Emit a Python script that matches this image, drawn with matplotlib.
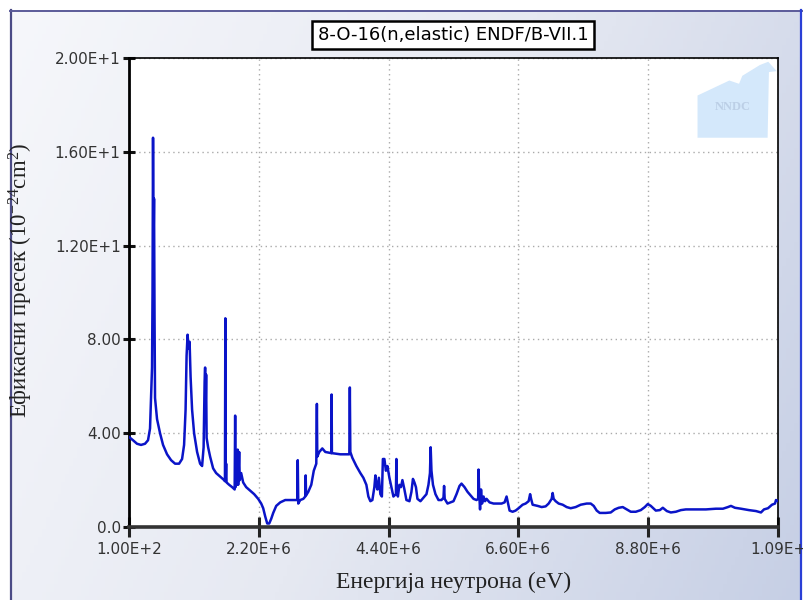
import numpy as np
import matplotlib
matplotlib.use("Agg")
import matplotlib.pyplot as plt
from matplotlib.patches import Polygon
from matplotlib.colors import LinearSegmentedColormap

plt.rcParams["mathtext.fontset"] = "custom"
plt.rcParams["mathtext.rm"] = "Liberation Serif"
plt.rcParams["mathtext.it"] = "Liberation Serif:italic"

# O-16 elastic cross section, energy in MeV, sigma in barns
energy_mev = [
    0.0001, 0.0673, 0.1346, 0.2019, 0.2691, 0.3196, 0.3532, 0.3701, 0.3869, 0.3953,
    0.4037, 0.4121, 0.4205, 0.4289, 0.4373, 0.4710, 0.5215, 0.5719, 0.6392, 0.7065,
    0.7738, 0.8411, 0.8915, 0.9252, 0.9504, 0.9672, 0.9840, 1.0008, 1.0177, 1.0345,
    1.0597, 1.0934, 1.1438, 1.1943, 1.2279, 1.2532, 1.2700, 1.2784, 1.2868, 1.2952,
    1.3036, 1.3289, 1.3625, 1.4130, 1.4634, 1.5307, 1.5980, 1.6115, 1.6182, 1.6249,
    1.6316, 1.6384, 1.6821, 1.7326, 1.7746, 1.7830, 1.7898, 1.7998, 1.8083, 1.8251,
    1.8335, 1.8503, 1.8604, 1.8840, 1.9176, 1.9681, 2.0353, 2.1026, 2.1699, 2.2204,
    2.2540, 2.2877, 2.3213, 2.3549, 2.3886, 2.4222, 2.4727, 2.5400, 2.6241, 2.8259,
    2.8343, 2.8427, 2.8764, 2.9269, 2.9605, 2.9672, 2.9739, 3.0110, 3.0614, 3.1034,
    3.1455, 3.1556, 3.1623, 3.1960, 3.2465, 3.2969, 3.3978, 3.4029, 3.4079, 3.5492,
    3.7006, 3.7090, 3.7174, 3.7511, 3.8184, 3.8857, 3.9361, 3.9866, 4.0202, 4.0539,
    4.0875, 4.1211, 4.1380, 4.1548, 4.1716, 4.1968, 4.2221, 4.2473, 4.2641, 4.2894,
    4.3146, 4.3398, 4.3735, 4.4071, 4.4407, 4.4828, 4.4912, 4.4996, 4.5164, 4.5417,
    4.5669, 4.5921, 4.6258, 4.6594, 4.7099, 4.7435, 4.7688, 4.7940, 4.8192, 4.8444,
    4.8949, 4.9455, 4.9958, 5.0295, 5.0547, 5.0665, 5.0799, 5.1052, 5.1472, 5.1977,
    5.2482, 5.2818, 5.2919, 5.3020, 5.3491, 5.3995, 5.4500, 5.5005, 5.5509, 5.5846,
    5.6350, 5.6855, 5.7360, 5.7864, 5.8369, 5.8638, 5.8705, 5.8806, 5.8958, 5.9126,
    5.9294, 5.9546, 5.9799, 6.0051, 6.0556, 6.1228, 6.1901, 6.2574, 6.3079, 6.3415,
    6.3667, 6.3920, 6.4424, 6.4929, 6.5434, 6.6107, 6.6611, 6.7116, 6.7368, 6.7536,
    6.7789, 6.8630, 6.9303, 6.9975, 7.0480, 7.0985, 7.1153, 7.1321, 7.1657, 7.2162,
    7.2835, 7.3508, 7.4181, 7.5022, 7.5863, 7.6872, 7.7545, 7.8049, 7.8554, 7.9059,
    8.0068, 8.0909, 8.1582, 8.2255, 8.2927, 8.3600, 8.4273, 8.5114, 8.5955, 8.6628,
    8.7133, 8.7637, 8.8478, 8.9151, 8.9656, 9.0329, 9.1002, 9.1843, 9.2684, 9.3525,
    9.5207, 9.6889, 9.8571, 9.9749, 10.0590, 10.1094, 10.1767, 10.2776, 10.4122, 10.5299,
    10.6140, 10.6645, 10.7318, 10.7991, 10.8495, 10.8664, 10.9000,
]
sigma_b = [
    3.84, 3.70, 3.55, 3.50, 3.55, 3.70, 4.20, 5.50, 6.80, 10.0,
    16.6, 12.0, 14.0, 9.00, 5.50, 4.60, 4.00, 3.50, 3.10, 2.85,
    2.70, 2.70, 2.90, 3.50, 5.00, 7.30, 8.20, 7.60, 7.90, 6.40,
    5.00, 4.00, 3.20, 2.70, 2.60, 3.40, 6.20, 6.80, 5.00, 6.50,
    3.80, 3.40, 3.00, 2.50, 2.30, 2.15, 2.00, 1.95, 8.90, 2.10,
    2.70, 1.90, 1.80, 1.70, 1.60, 4.75, 1.70, 2.90, 1.80, 3.30,
    1.80, 3.20, 2.00, 2.30, 1.90, 1.70, 1.55, 1.40, 1.20, 1.00,
    0.80, 0.45, 0.15, 0.15, 0.35, 0.60, 0.90, 1.05, 1.15, 1.15,
    2.85, 1.00, 1.15, 1.20, 1.30, 2.20, 1.35, 1.50, 1.80, 2.40,
    2.70, 5.25, 3.00, 3.20, 3.35, 3.20, 3.15, 5.65, 3.15, 3.10,
    3.10, 5.95, 3.20, 2.95, 2.60, 2.30, 2.10, 1.80, 1.30, 1.10,
    1.15, 1.70, 2.20, 1.80, 1.60, 2.10, 1.40, 1.30, 2.90, 2.90,
    2.40, 2.60, 2.10, 1.70, 1.30, 1.40, 2.90, 1.50, 1.30, 1.80,
    1.70, 2.00, 1.60, 1.15, 1.10, 1.50, 2.05, 1.90, 1.70, 1.20,
    1.10, 1.25, 1.40, 1.80, 2.30, 3.40, 2.40, 1.80, 1.40, 1.15,
    1.15, 1.25, 1.75, 1.20, 1.00, 1.05, 1.10, 1.40, 1.75, 1.85,
    1.70, 1.50, 1.35, 1.20, 1.15, 1.20, 2.45, 1.50, 0.75, 1.60,
    1.00, 1.30, 1.10, 1.20, 1.05, 1.00, 1.00, 1.00, 1.05, 1.30,
    1.00, 0.70, 0.65, 0.70, 0.80, 0.95, 1.00, 1.10, 1.40, 1.20,
    0.95, 0.90, 0.85, 0.88, 1.00, 1.20, 1.45, 1.20, 1.10, 1.00,
    0.95, 0.85, 0.80, 0.85, 0.95, 1.00, 1.00, 0.90, 0.70, 0.60,
    0.60, 0.62, 0.75, 0.82, 0.85, 0.75, 0.65, 0.65, 0.72, 0.85,
    0.98, 0.90, 0.70, 0.72, 0.82, 0.68, 0.62, 0.65, 0.72, 0.75,
    0.75, 0.75, 0.78, 0.78, 0.85, 0.90, 0.82, 0.78, 0.72, 0.68,
    0.62, 0.75, 0.80, 0.95, 1.00, 1.15, 1.10,
]

x_ticks = np.linspace(100, 1.09e7, 6)
x_labels = ["1.00E+2", "2.20E+6", "4.40E+6", "6.60E+6", "8.80E+6", "1.09E+"]
y_ticks = [0, 4, 8, 12, 16, 20]
y_labels = ["0.0", "4.00", "8.00", "1.20E+1", "1.60E+1", "2.00E+1"]

energy_ev = np.array(energy_mev) * 1e6

fig = plt.figure(figsize=(8.04, 6.0), dpi=100)
fig.patch.set_facecolor("white")

# shaded panel behind the plot
bg = fig.add_axes([10 / 804, 0, 792 / 804, 590 / 600], zorder=-10)
cmap = LinearSegmentedColormap.from_list("panel", ["#f6f7fb", "#e6e9f2", "#c6cfe5"])
gx, gy = np.meshgrid(np.linspace(0, 1, 200), np.linspace(0, 1, 150))
bg.imshow(0.75 * gx + 0.25 * gy, cmap=cmap, aspect="auto", extent=[0, 1, 0, 1],
          origin="upper")
bg.set_xlim(0, 1)
bg.set_ylim(0, 1)
bg.axis("off")
bg.plot([0.001, 0.001], [0, 1], color="#4b4b86", lw=1.6, clip_on=False)
bg.plot([0, 1], [0.999, 0.999], color="#5b5b99", lw=1.4, clip_on=False)
bg.plot([0.999, 0.999], [0, 1], color="#2a3fd6", lw=1.6, clip_on=False)

ax = fig.add_axes([129 / 804, 1 - 527 / 600, 649 / 804, 469 / 600])
ax.set_facecolor("white")

# NNDC watermark in the upper right corner
house = Polygon([[0.876, 0.83], [0.876, 0.92], [0.925, 0.952], [0.94, 0.945],
                 [0.945, 0.962], [0.972, 0.985], [0.985, 0.992], [0.998, 0.972],
                 [0.986, 0.97], [0.984, 0.83]],
                closed=True, transform=ax.transAxes, facecolor="#d4e8fb",
                edgecolor="none", zorder=0.5)
ax.add_patch(house)
ax.text(0.93, 0.895, "NNDC", transform=ax.transAxes, ha="center", va="center",
        fontsize=9, family="Liberation Serif", weight="bold", color="#bccfe6",
        zorder=0.6)

ax.plot(energy_ev, sigma_b, color="#0a14c8", lw=1.8, zorder=3)

ax.set_xlim(100, 1.09e7)
ax.set_ylim(0, 20)
ax.set_xticks(x_ticks)
ax.set_xticklabels(x_labels)
ax.set_yticks(y_ticks)
ax.set_yticklabels(y_labels)
ax.tick_params(axis="x", direction="inout", length=14, width=2.2, color="#222222",
               labelsize=11, labelcolor="#333333", pad=4)
ax.tick_params(axis="y", direction="inout", length=8, width=2.2, color="#111111",
               labelsize=11, labelcolor="#333333", pad=2)
for lbl in ax.get_xticklabels() + ax.get_yticklabels():
    lbl.set_family("DejaVu Sans")

ax.grid(True, linestyle=(0, (1, 2.5)), color="#aaaaaa", lw=1.0)
ax.spines["left"].set_linewidth(2.0)
ax.spines["bottom"].set_linewidth(2.6)
ax.spines["bottom"].set_color("#333333")
ax.spines["top"].set_linewidth(1.2)
ax.spines["right"].set_linewidth(1.2)

ax.set_xlabel("Енергија неутрона (eV)", family="Liberation Serif", fontsize=17,
              color="#222222")
ax.set_ylabel(r"Ефикасни пресек (10$^{\mathrm{-24}}$cm$^{\mathrm{2}}$)",
              family="Liberation Serif", fontsize=16.5, color="#222222")
ax.xaxis.set_label_coords(0.5, -0.095)
ax.yaxis.set_label_coords(-0.145, 0.525)

fig.text(453 / 804, 1 - 35 / 600, "8-O-16(n,elastic) ENDF/B-VII.1", ha="center",
         va="center", fontsize=13, family="DejaVu Sans", color="black",
         bbox=dict(boxstyle="square,pad=0.3", facecolor="white", edgecolor="black",
                   linewidth=1.8))

fig.savefig("out.png", dpi=100)
